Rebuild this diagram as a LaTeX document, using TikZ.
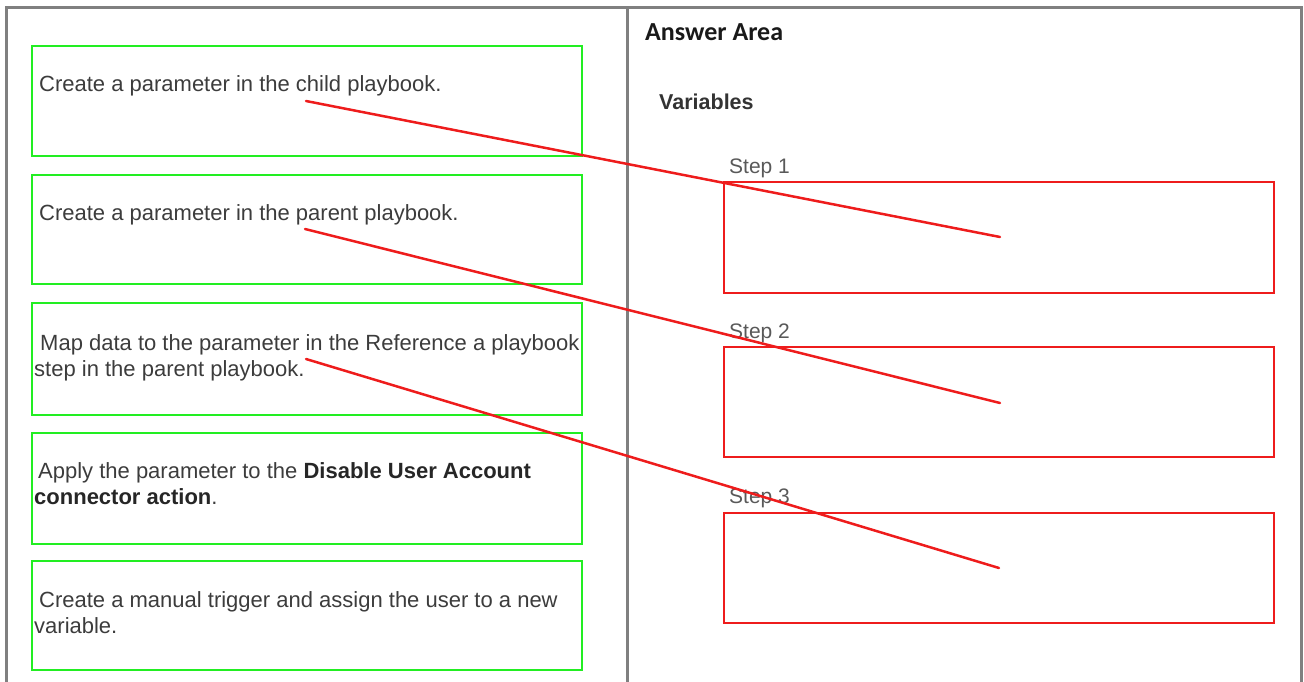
\documentclass[tikz,border=0pt]{standalone}
\usepackage{fontspec}
\setmainfont{Liberation Sans}
\newfontfamily\headfont{Carlito}

\definecolor{boxgreen}{HTML}{22EE22}
\definecolor{slotred}{HTML}{EE1C1C}
\definecolor{framegray}{HTML}{808080}
\definecolor{textgray}{HTML}{3C3C3C}

\def\optLeft{32}
\def\optRight{582}
\def\slotLeft{724}
\def\slotRight{1274}

\tikzset{
    optbox/.style = {draw = boxgreen, line width = 2.6pt},
    slotbox/.style = {draw = slotred, line width = 2pt},
    opttext/.style = {anchor = base west, inner sep = 0pt, align = left,
        text = textgray, font = \fontsize{22}{26}\selectfont},
    steplabel/.style = {anchor = base west, inner sep = 0pt,
        text = textgray!85, font = \fontsize{21}{25}\selectfont},
    link/.style = {draw = slotred, line width = 2.5pt, line cap = round}
}

\begin{document}
\begin{tikzpicture}[x = 1pt, y = -1pt]
            \useasboundingbox (0,0) rectangle (1304,682);
            %% outer frame and divider
            \draw [framegray, line width = 3pt]
            (6,682) -- (6,8) -- (1301,8) -- (1301,682)
            (627,8) -- (627,682)
            ;
            %% option boxes
            \draw [optbox] (\optLeft,46) rectangle (\optRight,156);
            \draw [optbox] (\optLeft,175) rectangle (\optRight,284);
            \draw [optbox] (\optLeft,303) rectangle (\optRight,415);
            \draw [optbox] (\optLeft,433) rectangle (\optRight,544);
            \draw [optbox] (\optLeft,561) rectangle (\optRight,670);
            %% option texts (base of two-line texts is the last line)
            \node [opttext] (childparam) at (39,92)
            {Create a parameter in the child playbook.};
            \node [opttext] (parentparam) at (39,220)
            {Create a parameter in the parent playbook.};
            \node [opttext] (mapdata) at (34,376)
            {\hspace*{6pt}Map data to the parameter in the Reference a playbook\\step in the parent playbook.};
            \node [opttext] (applyparam) at (34,504)
            {\hspace*{4pt}Apply the parameter to the \textbf{\color{black!85}Disable User Account}\\\textbf{\color{black!85}connector action}.};
            \node [opttext] (manualtrigger) at (34,633)
            {\hspace*{5pt}Create a manual trigger and assign the user to a new\\variable.};
            %% answer area
            \node [anchor = base west, inner sep = 0pt, text = black!90,
            font = \headfont\bfseries\fontsize{26}{30}\selectfont]
            (answer) at (645,41) {Answer Area};
            \node [anchor = base west, inner sep = 0pt, text = black!80,
            font = \bfseries\fontsize{21.5}{26}\selectfont]
            (variables) at (659,110) {Variables};
            \node [steplabel] (stepone) at (729,173) {Step 1};
            \node [steplabel] (steptwo) at (729,338) {Step 2};
            \node [steplabel] (stepthree) at (729,503) {Step 3};
            %% answer slots
            \draw [slotbox] (\slotLeft,182) rectangle (\slotRight,293);
            \draw [slotbox] (\slotLeft,347) rectangle (\slotRight,457);
            \draw [slotbox] (\slotLeft,513) rectangle (\slotRight,623);
            %% drag lines
            \coordinate (childpick) at (306,101);
            \coordinate (parentpick) at (305,229);
            \coordinate (mappick) at (306,359);
            \coordinate (slotone) at (1000,237);
            \coordinate (slottwo) at (1000,403);
            \coordinate (slotthree) at (999,568);
            \draw [link] (childpick) -- (slotone);
            \draw [link] (parentpick) -- (slottwo);
            \draw [link] (mappick) -- (slotthree);
        \end{tikzpicture}
\end{document}
